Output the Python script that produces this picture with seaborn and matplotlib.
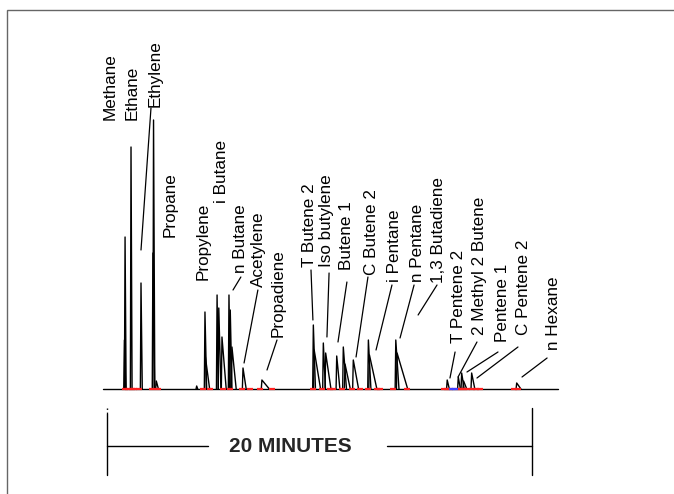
import matplotlib
matplotlib.use("Agg")
import matplotlib.pyplot as plt
from matplotlib.patches import Rectangle
import seaborn as sns
import numpy as np
import pandas as pd

sns.set_style("white")
plt.rcParams['font.family'] = ['Liberation Sans', 'DejaVu Sans']

# ---- data (time in minutes, response in arbitrary units) ----
peak_time = [0.82, 0.85, 1.13, 1.60, 2.16, 2.19, 2.32, 4.22, 4.61, 4.63,
             5.18, 5.26, 5.41, 5.74, 5.80, 5.88, 6.40, 7.29,
             9.71, 9.75, 10.18, 10.29, 10.81, 11.12, 11.20, 11.59,
             12.30, 12.35, 13.59, 13.65,
             16.01, 16.53, 16.69, 16.78, 17.16, 19.28]
peak_height = [49, 152, 242, 106, 136, 269, 8, 3, 77, 32,
               94, 81, 52, 94, 79, 42, 21, 9,
               64, 39, 46, 36, 33, 42, 25, 29,
               49, 34, 49, 36,
               9, 12, 16, 8, 16, 6]
peak_tail = [0.06, 0.05, 0.05, 0.06, 0.08, 0.06, 0.10, 0.05, 0.08, 0.20,
             0.06, 0.10, 0.20, 0.06, 0.08, 0.20, 0.15, 0.35,
             0.10, 0.30, 0.10, 0.25, 0.15, 0.15, 0.25, 0.25,
             0.12, 0.35, 0.15, 0.50,
             0.10, 0.10, 0.12, 0.15, 0.15, 0.20]
baseline_range = [-0.19, 21.22]

red_marks = [0.85, 0.99, 1.18, 1.27, 1.51, 2.12, 2.40, 4.52, 4.85, 5.46, 5.79,
             6.35, 6.73, 7.20, 7.76, 9.68, 10.10, 10.49, 10.64, 11.04, 11.52,
             11.91, 12.30, 12.69, 12.85, 13.47, 14.10, 15.86, 16.00, 16.14,
             16.52, 16.66, 16.80, 16.94, 17.18, 17.36, 17.55, 19.15, 19.34]
blue_marks = [16.24, 16.38]

compounds = ["Methane", "Ethane", "Ethylene", "Propane", "Propylene", "i Butane",
             "n Butane", "Acetylene", "Propadiene", "T Butene 2", "Iso butylene",
             "Butene 1", "C Butene 2", "i Pentane", "n Pentane", "1,3 Butadiene",
             "T Pentene 2", "2 Methyl 2 Butene", "Pentene 1", "C Pentene 2", "n Hexane"]

scale_minutes = 20

# ---- layout (label anchor and leader ends, in the same minutes/response units) ----
label_xy = [(0.14, 269), (1.18, 269), (2.26, 282), (2.96, 152), (4.52, 109), (5.41, 186),
            (6.28, 116), (7.12, 102), (8.05, 52), (9.51, 122), (10.35, 122),
            (11.29, 119), (12.47, 114), (13.51, 107), (14.59, 107), (15.58, 106),
            (16.52, 46), (17.55, 54), (18.59, 47), (19.58, 54), (20.99, 39)]
leaders = {
    "Ethylene": [(2.07, 281), (1.60, 139)],
    "n Butane": [(6.30, 112), (5.93, 99)],
    "Acetylene": [(7.10, 99), (6.45, 26)],
    "Propadiene": [(8.00, 49), (7.53, 19)],
    "T Butene 2": [(9.60, 119), (9.69, 69)],
    "Iso butylene": [(10.45, 116), (10.35, 52)],
    "Butene 1": [(11.29, 107), (10.87, 47)],
    "C Butene 2": [(12.28, 112), (11.72, 32)],
    "i Pentane": [(13.41, 104), (12.66, 39)],
    "n Pentane": [(14.45, 104), (13.79, 51)],
    "1,3 Butadiene": [(15.53, 104), (14.64, 74)],
    "T Pentene 2": [(16.38, 37), (16.14, 11)],
    "2 Methyl 2 Butene": [(17.41, 47), (16.52, 12)],
    "Pentene 1": [(18.40, 37), (16.94, 17)],
    "C Pentene 2": [(19.34, 42), (17.41, 11)],
    "n Hexane": [(20.71, 31), (19.53, 12)],
}

# pixel mapping of the original figure (674 x 494)
PX_PER_MIN = 21.25
X0_PX = 107
BASE_PX = 389

fig = plt.figure(figsize=(6.74, 4.94), dpi=100)
ax = fig.add_axes([0, 0, 1, 1])
ax.set_xlim(-X0_PX / PX_PER_MIN, (674 - X0_PX) / PX_PER_MIN)
ax.set_ylim(BASE_PX - 494, BASE_PX)
ax.axis('off')

# trace: baseline plus one polyline per peak
rows = [("base", baseline_range[0], 0), ("base", baseline_range[1], 0)]
for i, (t, h, w) in enumerate(zip(peak_time, peak_height, peak_tail)):
    rows += [(f"p{i}", t - 0.03, 0), (f"p{i}", t, h), (f"p{i}", t + w, 0)]
trace = pd.DataFrame(rows, columns=["unit", "time", "response"])
sns.lineplot(data=trace, x="time", y="response", units="unit", estimator=None,
             color="black", linewidth=1.0, ax=ax, legend=False)

ax.plot(red_marks, np.zeros(len(red_marks)), ls='none', marker='_', ms=4, mew=1.6,
        color='#ff2020', zorder=3)
ax.plot(blue_marks, np.zeros(len(blue_marks)), ls='none', marker='_', ms=4, mew=1.6,
        color='#4040ff', zorder=3)

# compound labels and leader lines
for name, (lx, ly) in zip(compounds, label_xy):
    ax.text(lx, ly, name, rotation=90, ha='center', va='bottom', fontsize=12.3,
            color='black')
    if name in leaders:
        (x1, y1), (x2, y2) = leaders[name]
        ax.plot([x1, x2], [y1, y2], color='black', lw=0.9)

# 20 minute scale bar
ax.plot([0, 0], [-24, -86], color='black', lw=1.0)
ax.plot([0, 0], [-19, -23], color='black', lw=1.0, ls=':')
ax.plot([scale_minutes, scale_minutes], [-19, -86], color='black', lw=1.0)
ax.plot([0, 4.75], [-57, -57], color='black', lw=1.0)
ax.plot([13.18, scale_minutes], [-57, -57], color='black', lw=1.0)
ax.text(8.64, -57, f"{scale_minutes} MINUTES", ha='center', va='center',
        fontsize=15, fontweight='bold')

# outer frame (cut off at right and bottom)
fig.add_artist(Rectangle((7 / 674, -0.1), 1.2, 1.1 - 10 / 494,
                         transform=fig.transFigure, fill=False,
                         edgecolor='#666666', lw=1.0))

fig.savefig("out.png", dpi=100)
